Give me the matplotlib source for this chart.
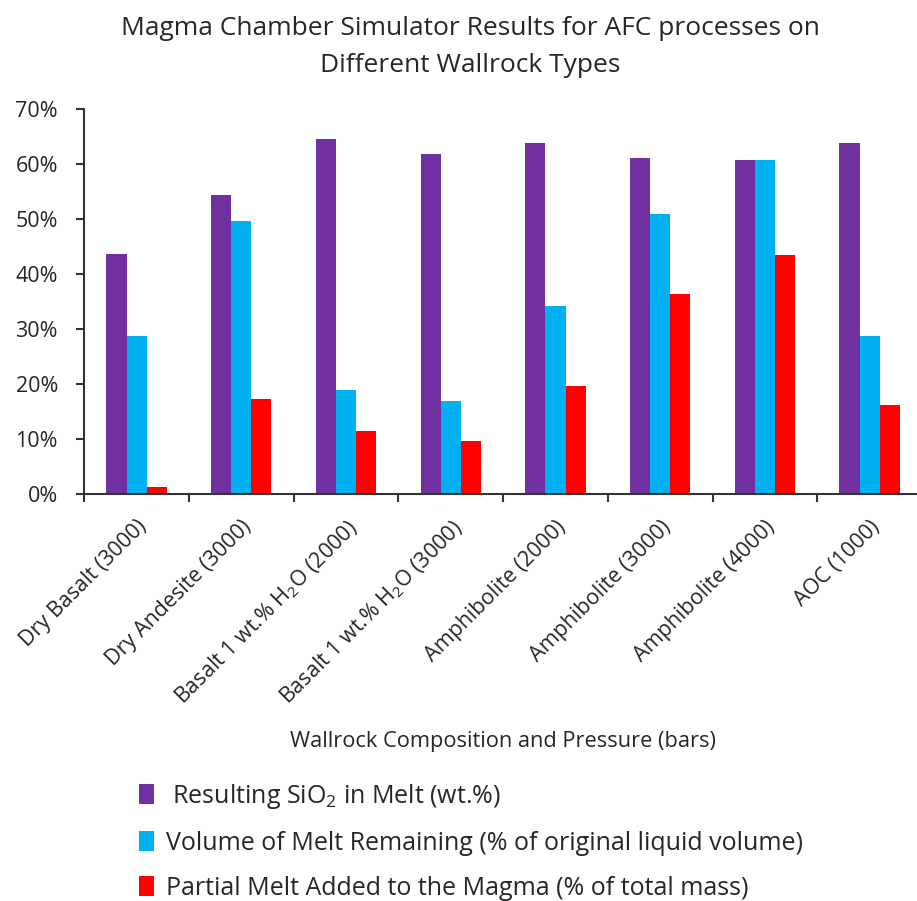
import matplotlib
matplotlib.use("Agg")
import matplotlib.pyplot as plt
from matplotlib.patches import Patch
import numpy as np

plt.rcParams['font.family'] = ['Open Sans', 'DejaVu Sans']
plt.rcParams['mathtext.fontset'] = 'custom'
plt.rcParams['mathtext.rm'] = 'Open Sans'
plt.rcParams['mathtext.it'] = 'Open Sans:italic'

categories = [
    "Dry Basalt (3000)",
    "Dry Andesite (3000)",
    "Basalt 1 wt.% H$_2$O (2000)",
    "Basalt 1 wt.% H$_2$O (3000)",
    "Amphibolite (2000)",
    "Amphibolite (3000)",
    "Amphibolite (4000)",
    "AOC (1000)",
]
series_names = [
    " Resulting SiO$_2$ in Melt (wt.%)",
    "Volume of Melt Remaining (% of original liquid volume)",
    "Partial Melt Added to the Magma (% of total mass)",
]
sio2_melt = [0.437, 0.544, 0.646, 0.619, 0.639, 0.611, 0.607, 0.639]
melt_remaining = [0.288, 0.497, 0.190, 0.170, 0.342, 0.509, 0.607, 0.288]
partial_melt = [0.013, 0.174, 0.115, 0.096, 0.197, 0.363, 0.434, 0.163]
yticks = [0.0, 0.1, 0.2, 0.3, 0.4, 0.5, 0.6, 0.7]

colors = ["#7030A0", "#00B0F0", "#FF0000"]
text_color = "#262626"

fig = plt.figure(figsize=(9.17, 9.01), dpi=100)
ax = fig.add_axes([0.0919, 0.4514, 0.9135, 0.4276])

x = np.arange(len(categories))
w = 0.192
for i, (vals, c, name) in enumerate(zip([sio2_melt, melt_remaining, partial_melt], colors, series_names)):
    ax.bar(x + (i - 1) * w, vals, width=w, color=c, label=name)

ax.set_xlim(-0.5, len(categories) - 0.5)
ax.set_ylim(0, 0.70)
ax.set_yticks(yticks)
ax.set_yticklabels([f"{int(round(v * 100))}%" for v in yticks], fontsize=15.5, color=text_color)
ax.set_xticks(x)
ax.set_xticklabels(categories, rotation=45, ha='right', rotation_mode='anchor',
                   fontsize=15.5, color=text_color)
ax.tick_params(axis='x', which='major', length=0, pad=16)
ax.set_xticks(np.arange(len(categories) + 1) - 0.5, minor=True)
ax.tick_params(axis='x', which='minor', length=6, width=1.5, color='#333333', direction='out')
ax.tick_params(axis='y', length=6, width=1.5, color='#333333', direction='out', pad=13)

for s in ['top', 'right']:
    ax.spines[s].set_visible(False)
for s in ['left', 'bottom']:
    ax.spines[s].set_linewidth(1.5)
    ax.spines[s].set_color('#333333')

ax.set_xlabel("Wallrock Composition and Pressure (bars)", fontsize=15.7, labelpad=16, color=text_color)

fig.text(0.513, 0.982, "Magma Chamber Simulator Results for AFC processes on\nDifferent Wallrock Types",
         ha='center', va='top', fontsize=19, linespacing=1.6, color=text_color)

handles = [Patch(facecolor=c) for c in colors]
fig.legend(handles, series_names, loc='upper left', bbox_to_anchor=(0.141, 0.1435),
           frameon=False, fontsize=18, handlelength=0.6, handleheight=0.9,
           handletextpad=0.45, labelspacing=0.8, borderaxespad=0, labelcolor=text_color)

fig.savefig("out.png", dpi=100)
